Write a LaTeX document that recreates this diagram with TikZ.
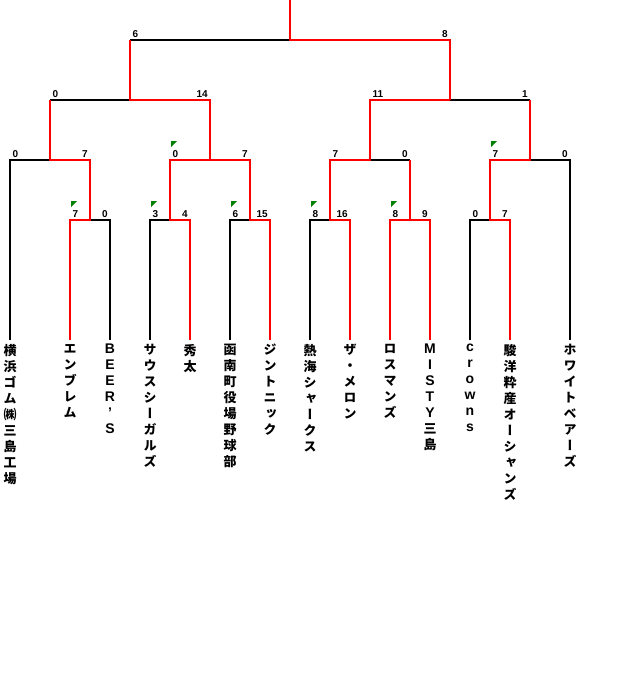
\documentclass[tikz,border=0pt]{standalone}
\usepackage{fontspec}
\setmainfont{Liberation Sans}
\newfontfamily\jp[RawFeature=+vert]{Noto Sans CJK JP}
\newfontfamily\latf{Liberation Sans}
\newcommand\LL[1]{{\latf\bfseries\fontsize{14}{16}\selectfont #1}}
\definecolor{wred}{RGB}{255,0,0}
\definecolor{flagc}{RGB}{0,128,0}
\begin{document}
\begin{tikzpicture}[x=1pt,y=-1pt,
  lose/.style={draw=black,line width=2.4pt},
  win/.style={draw=wred,line width=2.4pt},
  sc/.style={font=\bfseries\fontsize{10}{10}\selectfont,inner sep=0pt},
  scl/.style={sc,anchor=south west,xshift=2.5pt,yshift=2.5pt},
  scr/.style={sc,anchor=south east,xshift=-2pt,yshift=2.5pt},
  team/.style={anchor=north,inner sep=0pt,align=center,
    font=\jp\bfseries\fontsize{13}{16}\selectfont,
    execute at begin node={\rule{0pt}{11pt}}},
  flagtri/.style={fill=flagc}]
\useasboundingbox (0,0) rectangle (626,696);
% coordinates
\coordinate (r) at (290,0);
\coordinate (c0) at (290,40);
\coordinate (c1L) at (130,40);
\coordinate (c1R) at (450,40);
\foreach \x in {50,130,210,370,450,530} {\coordinate (d\x) at (\x,100);}
\foreach \x in {10,50,90,170,210,250,330,370,410,490,530,570} {\coordinate (e\x) at (\x,160);}
\foreach \x in {70,90,110,150,170,190,230,250,270,310,330,350,390,410,430,470,490,510} {\coordinate (f\x) at (\x,220);}
% teams
\node[team] (t1) at (10,344) {横\\浜\\ゴ\\ム\\㈱\\三\\島\\工\\場};
\node[team] (t2) at (70,344) {エ\\ン\\ブ\\レ\\ム};
\node[team] (t3) at (110,344) {\LL{B}\\\LL{E}\\\LL{E}\\\LL{R}\\\LL{’}\\\LL{S}};
\node[team] (t4) at (150,344) {サ\\ウ\\ス\\シ\\ー\\ガ\\ル\\ズ};
\node[team] (t5) at (190,344) {秀\\太};
\node[team] (t6) at (230,344) {函\\南\\町\\役\\場\\野\\球\\部};
\node[team] (t7) at (270,344) {ジ\\ン\\ト\\ニ\\ッ\\ク};
\node[team] (t8) at (310,344) {熱\\海\\シ\\ャ\\ー\\ク\\ス};
\node[team] (t9) at (350,344) {ザ\\・\\メ\\ロ\\ン};
\node[team] (t10) at (390,344) {ロ\\ス\\マ\\ン\\ズ};
\node[team] (t11) at (430,344) {\LL{M}\\\LL{I}\\\LL{S}\\\LL{T}\\\LL{Y}\\三\\島};
\node[team] (t12) at (470,344) {\LL{c}\\\LL{r}\\\LL{o}\\\LL{w}\\\LL{n}\\\LL{s}};
\node[team] (t13) at (510,344) {駿\\洋\\粋\\産\\オ\\ー\\シ\\ャ\\ン\\ズ};
\node[team] (t14) at (570,344) {ホ\\ワ\\イ\\ト\\ベ\\ア\\ー\\ズ};
% losing lines
\draw[lose] (c1L) -- (c0);
\draw[lose] (d50) -- (d130);
\draw[lose] (d450) -- (d530);
\draw[lose] ([yshift=4pt]t1.north) -- (e10) -- (e50);
\draw[lose] (e370) -- (e410);
\draw[lose] (e530) -- (e570) -- ([yshift=4pt]t14.north);
\draw[lose] (f90) -- (f110) -- ([yshift=4pt]t3.north);
\draw[lose] ([yshift=4pt]t4.north) -- (f150) -- (f170);
\draw[lose] ([yshift=4pt]t6.north) -- (f230) -- (f250);
\draw[lose] ([yshift=4pt]t8.north) -- (f310) -- (f330);
\draw[lose] ([yshift=4pt]t12.north) -- (f470) -- (f490);
% winning lines
\draw[win] (r) -- (c0) -- (c1R) -- (d450);
\draw[win] (c1L) -- (d130) -- (d210) -- (e210);
\draw[win] (d50) -- (e50) -- (e90) -- (f90) -- (f70) -- ([yshift=4pt]t2.north);
\draw[win] ([yshift=4pt]t5.north) -- (f190) -- (f170) -- (e170) -- (e250) -- (f250) -- (f270) -- ([yshift=4pt]t7.north);
\draw[win] (d450) -- (d370) -- (e370) -- (e330) -- (f330) -- (f350) -- ([yshift=4pt]t9.north);
\draw[win] (e410) -- (f410);
\draw[win] ([yshift=4pt]t10.north) -- (f390) -- (f430) -- ([yshift=4pt]t11.north);
\draw[win] (d530) -- (e530) -- (e490) -- (f490) -- (f510) -- ([yshift=4pt]t13.north);
% scores
\node[scl] (s1) at (c1L) {6};
\node[scr] (s2) at (c1R) {8};
\node[scl] (s3) at (d50) {0};
\node[scr] (s4) at (d210) {14};
\node[scl] (s5) at (d370) {11};
\node[scr] (s6) at (d530) {1};
\node[scl] (s7) at (e10) {0};
\node[scr] (s8) at (e90) {7};
\node[scl] (s9) at (e170) {0};
\node[scr] (s10) at (e250) {7};
\node[scl] (s11) at (e330) {7};
\node[scr] (s12) at (e410) {0};
\node[scl] (s13) at (e490) {7};
\node[scr] (s14) at (e570) {0};
\node[scl] (s15) at (f70) {7};
\node[scr] (s16) at (f110) {0};
\node[scl] (s17) at (f150) {3};
\node[scr] (s18) at (f190) {4};
\node[scl] (s19) at (f230) {6};
\node[scr] (s20) at (f270) {15};
\node[scl] (s21) at (f310) {8};
\node[scr] (s22) at (f350) {16};
\node[scl] (s23) at (f390) {8};
\node[scr] (s24) at (f430) {9};
\node[scl] (s25) at (f470) {0};
\node[scr] (s26) at (f510) {7};
% flags
\foreach \x in {71,151,231,311,391} {\fill[flagtri] (\x,201) -- (\x+6,201) -- (\x,207) -- cycle;}
\foreach \x in {171,491} {\fill[flagtri] (\x,141) -- (\x+6,141) -- (\x,147) -- cycle;}
\end{tikzpicture}
\end{document}
